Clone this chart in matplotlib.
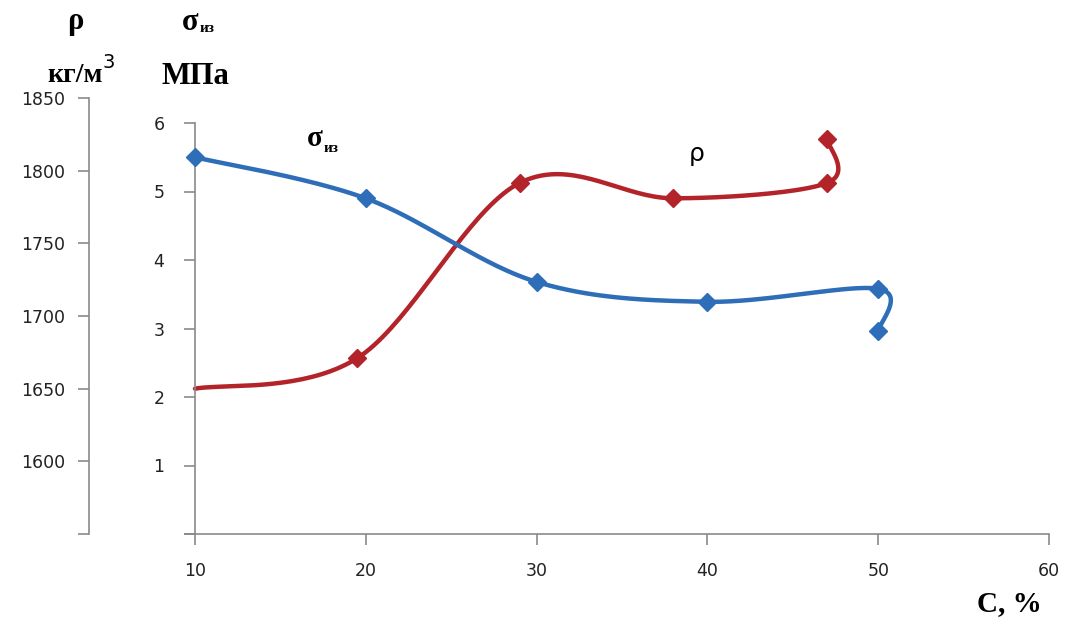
import numpy as np
import matplotlib
matplotlib.use("Agg")
import matplotlib.pyplot as plt
from matplotlib.lines import Line2D

# ---- data ----
sigma_x = [10, 20, 30, 40, 50, 50]
sigma_y = [5.50, 4.90, 3.68, 3.39, 3.58, 2.96]

rho_x = [10, 19.5, 29, 38, 47, 47]
rho_y = [1650, 1671, 1791.5, 1781, 1791.5, 1822]

x_ticks = [10, 20, 30, 40, 50, 60]
sigma_ticks = [1, 2, 3, 4, 5, 6]
rho_ticks = [1600, 1650, 1700, 1750, 1800, 1850]

BLUE = "#2E6DB8"
RED = "#B3242A"
GRAY = "#8a8a8a"

W, H = 1067, 624
fig = plt.figure(figsize=(W / 100, H / 100), dpi=100)

left, right = 195, 1049
bottom = 534
top_sigma = 123
top_rho = 98

ax_rho = fig.add_axes([left / W, (H - bottom) / H, (right - left) / W, (bottom - top_rho) / H])
ax = fig.add_axes([left / W, (H - bottom) / H, (right - left) / W, (bottom - top_sigma) / H])
ax.patch.set_alpha(0)


def smooth(xs, ys, sx, sy, n=40):
    """Excel-like smoothed curve (Catmull-Rom/Bezier) computed in scaled coordinates."""
    P = np.column_stack([np.asarray(xs, float) * sx, np.asarray(ys, float) * sy])
    m = len(P)
    out = []
    for i in range(m - 1):
        p0 = P[i - 1] if i > 0 else P[i]
        p1 = P[i]
        p2 = P[i + 1]
        p3 = P[i + 2] if i + 2 < m else P[i + 1]
        c1 = p1 + (p2 - p0) / 6.0
        c2 = p2 - (p3 - p1) / 6.0
        t = np.linspace(0, 1, n)[:, None]
        seg = ((1 - t) ** 3) * p1 + 3 * ((1 - t) ** 2) * t * c1 + 3 * (1 - t) * t ** 2 * c2 + t ** 3 * p2
        out.append(seg if i == 0 else seg[1:])
    C = np.vstack(out)
    return C[:, 0] / sx, C[:, 1] / sy


TICKFONT = dict(labelsize=12.5, labelcolor="#222222")

# ---- rho (outer axis) ----
ax_rho.set_xlim(10, 60)
ax_rho.set_ylim(1550, 1850)
cx, cy = smooth(rho_x, rho_y, 17.08, 72.8 / 50)
ax_rho.plot(cx, cy, color=RED, lw=3.2, solid_capstyle="round", clip_on=False)
ax_rho.plot(rho_x[1:], rho_y[1:], ls="none", marker="D", ms=9.5, color=RED, clip_on=False)
for s in ["top", "right", "bottom"]:
    ax_rho.spines[s].set_visible(False)
ax_rho.spines["left"].set_position(("axes", -(left - 89) / (right - left)))
ax_rho.spines["left"].set_color(GRAY)
ax_rho.spines["left"].set_linewidth(1.2)
ax_rho.set_yticks([1550] + rho_ticks)
ax_rho.set_yticklabels([""] + [str(v) for v in rho_ticks])
ax_rho.tick_params(axis="y", direction="out", length=8, width=1.2, color=GRAY, pad=9, **TICKFONT)
ax_rho.set_xticks([])
ax_rho.patch.set_alpha(0)

# ---- sigma (inner axis) ----
ax.set_xlim(10, 60)
ax.set_ylim(0, 6)
bx, by = smooth(sigma_x, sigma_y, 17.08, 68.2)
ax.plot(bx, by, color=BLUE, lw=3.2, solid_capstyle="round", clip_on=False, zorder=3)
ax.plot(sigma_x, sigma_y, ls="none", marker="D", ms=9.5, color=BLUE, clip_on=False, zorder=4)
for s in ["top", "right"]:
    ax.spines[s].set_visible(False)
for s in ["left", "bottom"]:
    ax.spines[s].set_color(GRAY)
    ax.spines[s].set_linewidth(1.2)
ax.set_yticks([0] + sigma_ticks)
ax.set_yticklabels([""] + [str(v) for v in sigma_ticks])
ax.set_xticks(x_ticks)
ax.set_xticklabels([str(v) for v in x_ticks])
ax.tick_params(axis="both", direction="out", length=8, width=1.2, color=GRAY, **TICKFONT)
ax.tick_params(axis="y", pad=14)
ax.tick_params(axis="x", pad=12)
ax.add_line(Line2D([-10 / (right - left), 0], [0, 0], transform=ax.transAxes,
                   color=GRAY, lw=1.2, clip_on=False))

# ---- labels ----
serif = ["Liberation Serif", "DejaVu Serif"]
fig.text(75 / W, 1 - 22 / H, "ρ", family=serif, weight="bold", fontsize=22, ha="center", va="center")
fig.text(103 / W, 1 - 76 / H, "кг/м", family=serif, weight="bold", fontsize=20, ha="right", va="center")
fig.text(103 / W, 1 - 63 / H, "3", family="DejaVu Sans", fontsize=14, ha="left", va="center")
fig.text(190 / W, 1 - 22 / H, "σ", family=serif, weight="bold", fontsize=22, ha="center", va="center")
fig.text(200 / W, 1 - 28 / H, "из", family=serif, weight="bold", fontsize=11, ha="left", va="center")
fig.text(195 / W, 1 - 76 / H, "МПа", family=serif, weight="bold", fontsize=22, ha="center", va="center")
fig.text(1009 / W, 1 - 604 / H, "C, %", family=serif, weight="bold", fontsize=21, ha="center", va="center")

fig.text(315 / W, 1 - 139 / H, "σ", family=serif, weight="bold", fontsize=21, ha="center", va="center")
fig.text(324 / W, 1 - 148 / H, "из", family=serif, weight="bold", fontsize=11, ha="left", va="center")
fig.text(697 / W, 1 - 154 / H, "ρ", family="DejaVu Sans", fontsize=18, ha="center", va="center")

fig.savefig("out.png", dpi=100)
